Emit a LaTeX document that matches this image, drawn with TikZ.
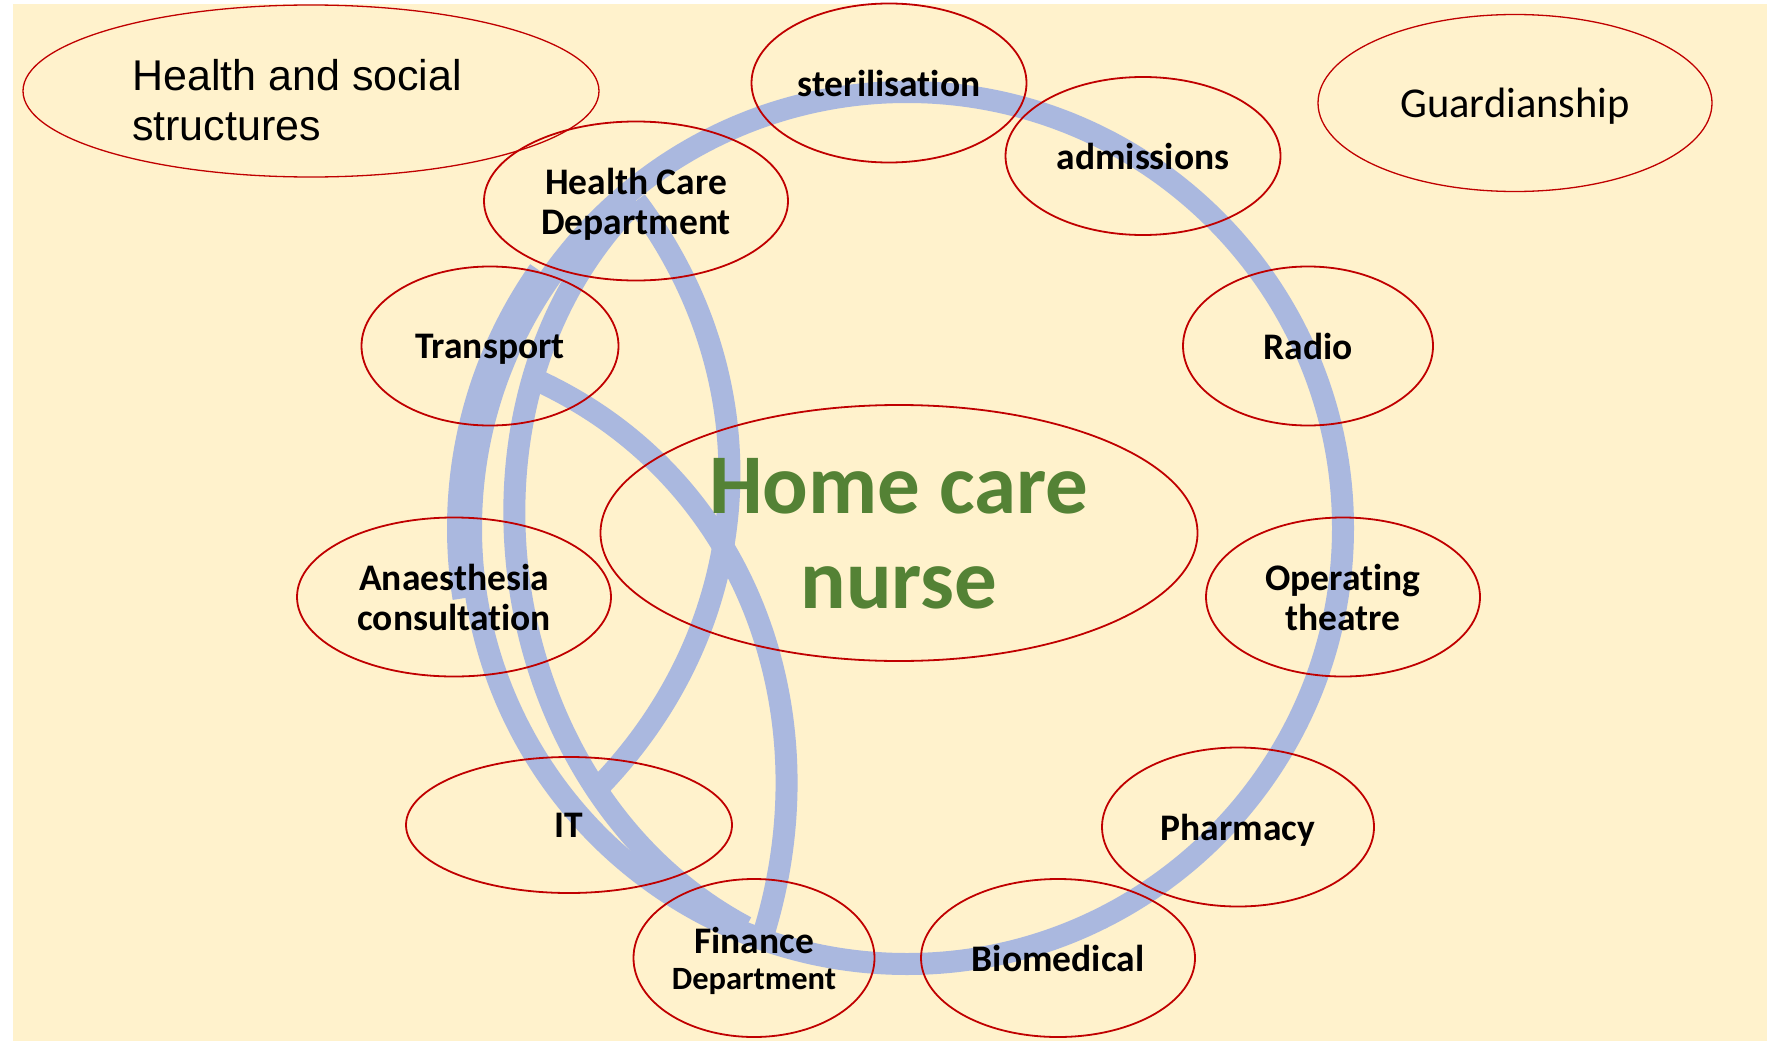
\documentclass[tikz,border=0pt]{standalone}
\usepackage{xcolor}
\usepackage{fontspec}
\setmainfont[Ligatures={NoCommon,NoContextual}]{Carlito}
\newfontfamily\arialfont{Liberation Sans}
\usepackage{tikz}
\usetikzlibrary{shapes.geometric,backgrounds}

\definecolor{paper}{HTML}{FFF2CC}
\definecolor{ringred}{HTML}{C00000}
\definecolor{bandblue}{HTML}{AAB8DF}
\definecolor{nursegreen}{HTML}{548235}

\begin{document}
\begin{tikzpicture}[x=1pt,y=-1pt,
			bubble/.style={ellipse,draw=ringred,line width=1.8pt,inner sep=0pt,align=center,
				text depth=0pt,font=\bfseries\fontsize{37.5}{40}\selectfont},
			thinbubble/.style={bubble,line width=1.3pt},
			%band/.style={draw=bandblue,line width=20pt},
			band/.style={draw=bandblue,line width=22pt}]
		\useasboundingbox (0,0) rectangle (1767,1041);
		\node[bubble,minimum width=597pt,minimum height=256pt,text=nursegreen,
			font=\bfseries\fontsize{85}{95}\selectfont] (nurse) at (899,533) {Home care\\nurse};
		\node[thinbubble,minimum width=576pt,minimum height=172pt] (hss) at (311,91) {};
		\node[anchor=north west,inner sep=0pt,align=left,
			font=\arialfont\fontsize{43}{50}\selectfont] (hsstext) at (132,59) {Health and social\\structures};
		\node[thinbubble,minimum width=394pt,minimum height=177pt,
			font=\fontsize{42.5}{48}\selectfont] (guard) at (1515,103) {Guardianship};
		\node[bubble,minimum width=275pt,minimum height=159pt] (steril) at (889,83) {sterilisation};
		\node[bubble,minimum width=275pt,minimum height=158pt] (admis) at (1143,156) {admissions};
		\node[bubble,minimum width=304pt,minimum height=159pt] (hcd) at (636,201) {Health Care\\Department};
		\node[bubble,minimum width=257pt,minimum height=159pt] (transp) at (490,346) {Transport};
		\node[bubble,minimum width=250pt,minimum height=159pt] (radio) at (1308,346) {Radio};
		\node[bubble,minimum width=314pt,minimum height=159pt] (anaes) at (454,597) {Anaesthesia\\consultation};
		\node[bubble,minimum width=274pt,minimum height=159pt] (theatre) at (1343,597) {Operating\\theatre};
		\node[bubble,minimum width=326pt,minimum height=136pt] (it) at (569,825) {IT};
		\node[bubble,minimum width=272pt,minimum height=159pt] (pharma) at (1238,827) {Pharmacy};
		\node[bubble,minimum width=241pt,minimum height=158pt] (finance) at (754,958)
			{Finance\\[-4pt]{\fontsize{32.5}{36}\selectfont Department}};
		\node[bubble,minimum width=274pt,minimum height=158pt] (biomed) at (1058,958) {Biomedical};

		\begin{scope}[on background layer]
			\fill[paper] (13,4) rectangle (1767,1041);
			\coordinate (hub) at (907,528);
			\coordinate (trjoin) at (525,375);
			\coordinate (itjoin) at (593,793);
			\coordinate (finjoin) at (746,927);
			\coordinate (finjoinb) at (761,942);
			% the ring
			\draw[band] (hub) circle[radius=436pt];
			\draw[band] ([shift={(145:449pt)}]hub) arc[start angle=145,end angle=189,radius=449pt];
			% the arcs across
			\draw[band] (hcd.center) to[out=225,in=152] (finjoin);
			\draw[band] (hcd.center) to[out=-53,in=45] (itjoin);
			\draw[band] (trjoin) to[out=-23,in=72] (finjoinb);
		\end{scope}
\end{tikzpicture}
\end{document}
